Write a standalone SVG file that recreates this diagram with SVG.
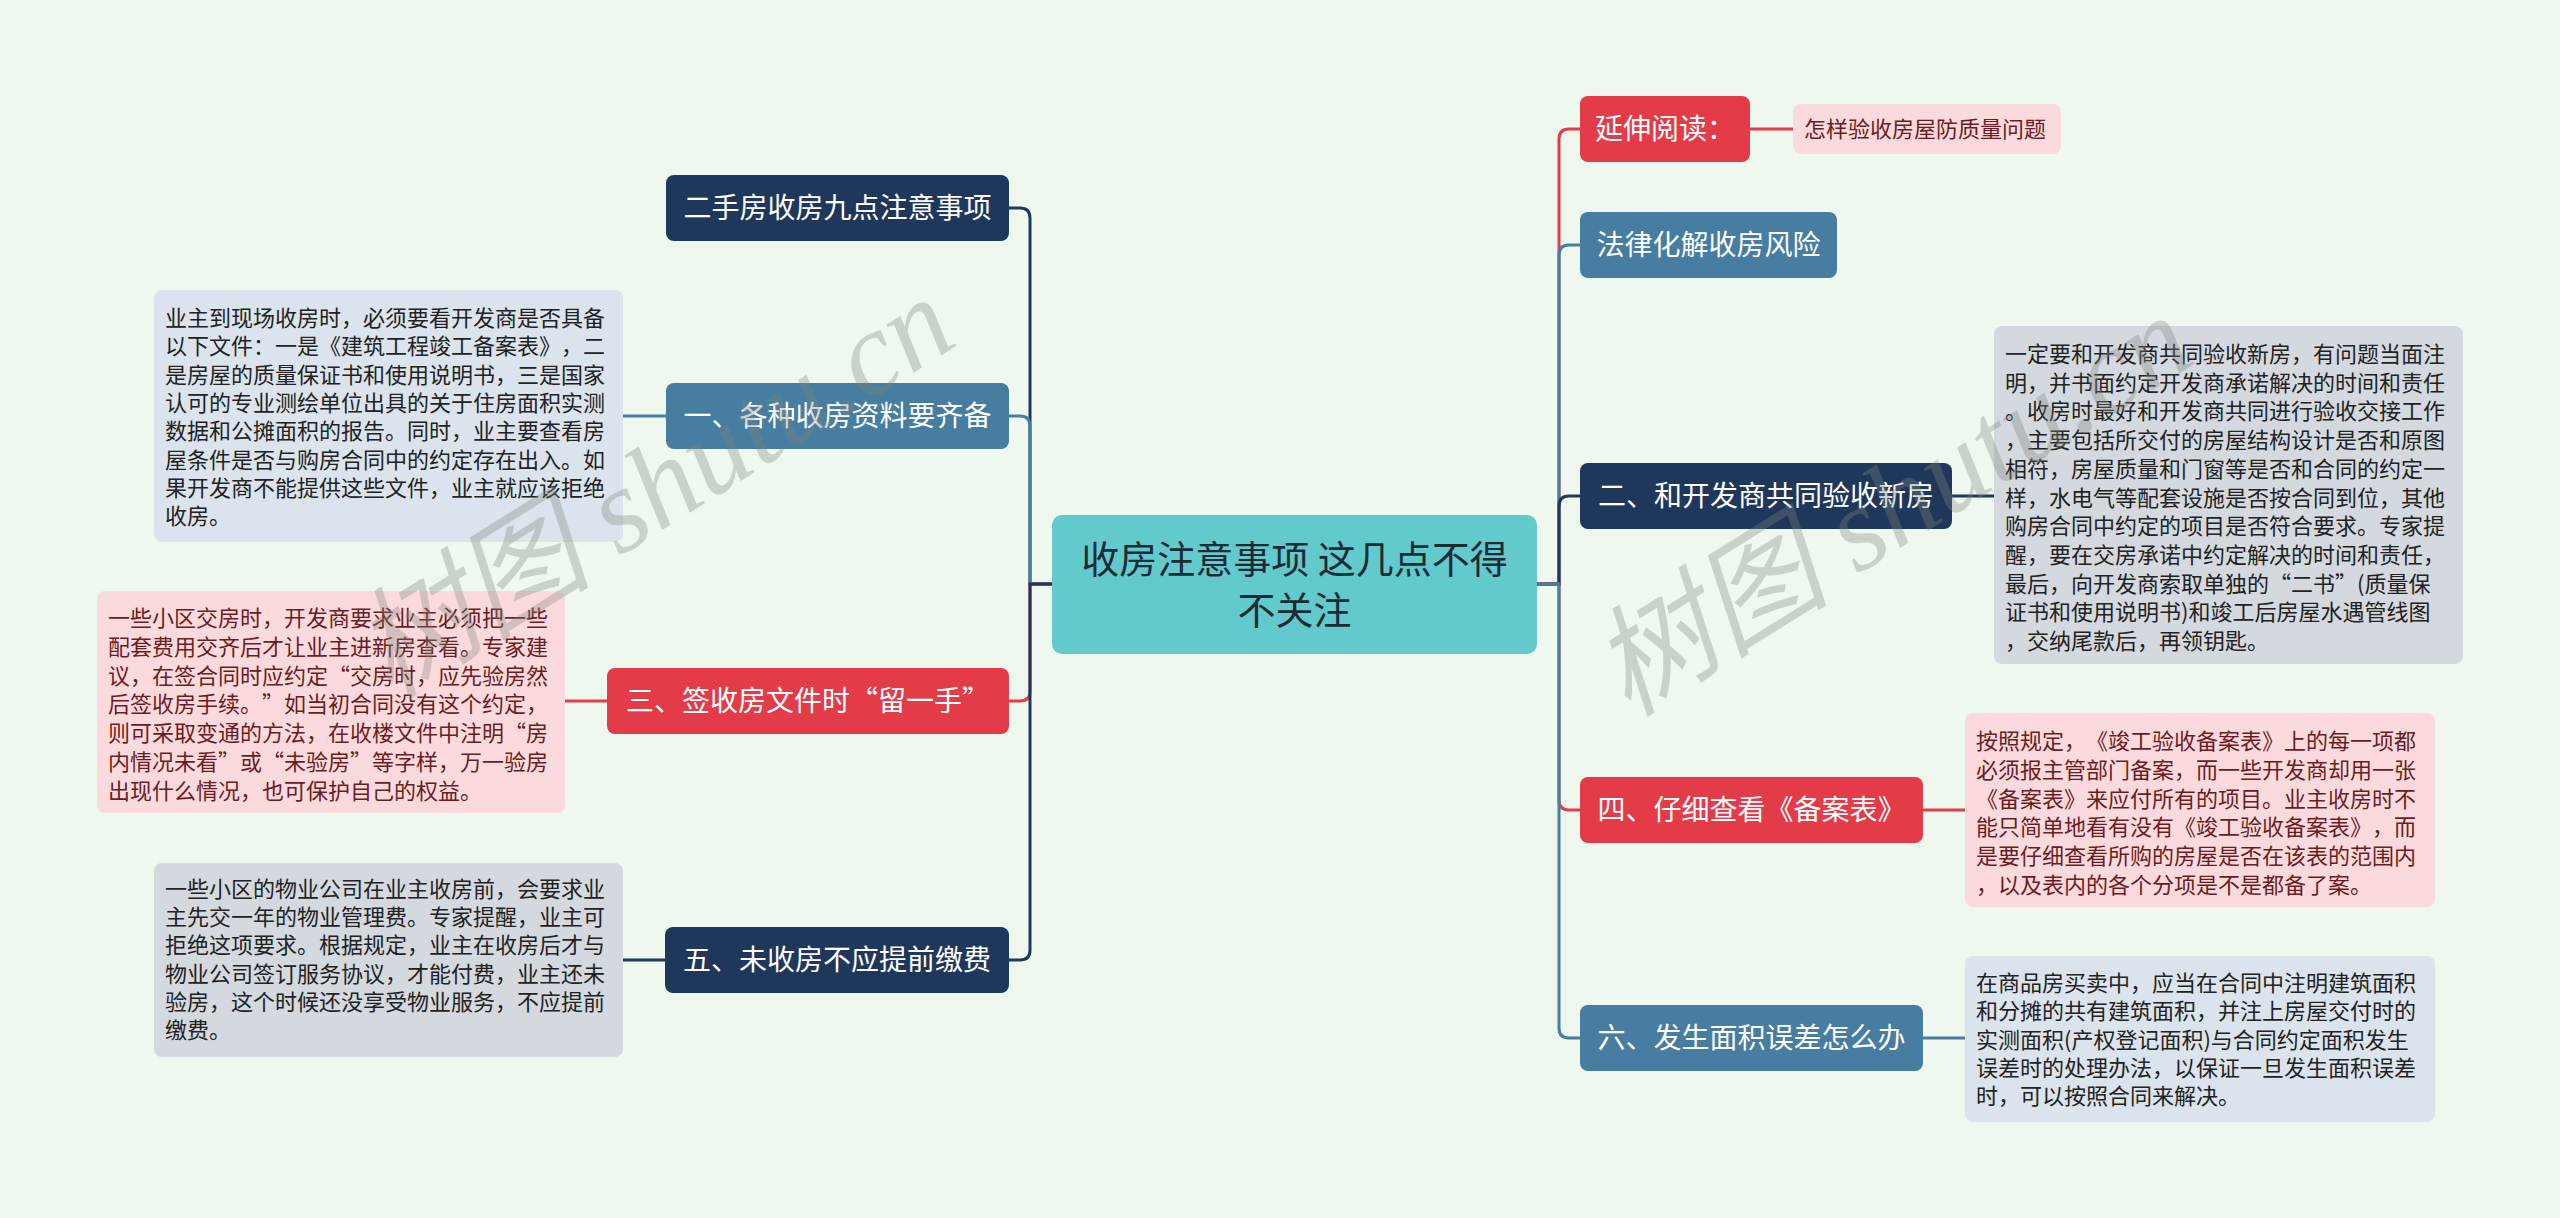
<svg xmlns="http://www.w3.org/2000/svg" width="2560" height="1218" viewBox="0 0 2560 1218">
<defs>
<style>
.bg{fill:#eff8ee}
.navy{fill:#1f375a}
.steel{fill:#467da0}
.red{fill:#e33b48}
.teal{fill:#62c9cc}
.pink{fill:#fbdadd}
.lblue{fill:#dbe4ec}
.grey{fill:#d4d9e0}
text{text-spacing-trim:space-all}
.t-main{font-family:"Noto Sans CJK SC",sans-serif;font-size:38px;fill:#1c2b36;text-anchor:middle}
.t-node{font-family:"Noto Sans CJK SC",sans-serif;font-size:28px;fill:#ffffff;text-anchor:middle}
.t-leaf{font-family:"Noto Sans CJK SC",sans-serif;font-size:22px;fill:#222222}
.t-pink{fill:#6b1c22}
.c{fill:none;stroke-width:3}
.cn{stroke:#1f375a}
.cs{stroke:#467da0}
.cr{stroke:#e33b48}
.wm{font-family:"Liberation Serif","Noto Sans CJK SC",serif;font-style:italic;font-size:120px;fill:#7d877d;opacity:0.33}
</style>
</defs>
<rect class="bg" x="0" y="0" width="2560" height="1218"/>

<g id="connectors">
<path class="c cn" d="M1052,584 H1030 V218 Q1030,208 1020,208 H1009"/>
<path class="c cs" d="M1052,584 H1030 V426 Q1030,416 1020,416 H1009"/>
<path class="c cr" d="M1052,584 H1030 V691 Q1030,701 1020,701 H1009"/>
<path class="c cn" d="M1052,584 H1030 V950 Q1030,960 1020,960 H1009"/>
<path class="c cr" d="M1537,584 H1559 V139 Q1559,129 1569,129 H1580"/>
<path class="c cs" d="M1537,584 H1559 V255 Q1559,245 1569,245 H1580"/>
<path class="c cn" d="M1537,584 H1559 V506 Q1559,496 1569,496 H1580"/>
<path class="c cr" d="M1537,584 H1559 V800 Q1559,810 1569,810 H1580"/>
<path class="c cs" d="M1537,584 H1559 V1028 Q1559,1038 1569,1038 H1580"/>
<path class="c cs" d="M666,416 H623"/>
<path class="c cr" d="M607,701 H565"/>
<path class="c cn" d="M665,960 H623"/>
<path class="c cr" d="M1750,129 H1793"/>
<path class="c cn" d="M1952,496 H1994"/>
<path class="c cr" d="M1923,810 H1965"/>
<path class="c cs" d="M1923,1038 H1965"/>
</g>

<g id="central">
<rect class="teal" x="1052" y="515" width="485" height="139" rx="10"/>
<text class="t-main" x="1294.5" y="573">收房注意事项 这几点不得</text>
<text class="t-main" x="1294.5" y="624">不关注</text>
</g>

<g id="n-ershoufang">
<rect class="navy" x="666" y="175" width="343" height="66" rx="8"/>
<text class="t-node" x="837.5" y="218">二手房收房九点注意事项</text>
</g>

<g id="n-yi">
<rect class="steel" x="666" y="383" width="343" height="66" rx="8"/>
<text class="t-node" x="837.5" y="426">一、各种收房资料要齐备</text>
</g>
<g id="leaf-yi">
<rect class="lblue" x="154" y="290" width="469" height="252" rx="8"/>
<text class="t-leaf">
<tspan x="165" y="326">业主到现场收房时，必须要看开发商是否具备</tspan>
<tspan x="165" y="354.3">以下文件：一是《建筑工程竣工备案表》，二</tspan>
<tspan x="165" y="382.6">是房屋的质量保证书和使用说明书，三是国家</tspan>
<tspan x="165" y="410.9">认可的专业测绘单位出具的关于住房面积实测</tspan>
<tspan x="165" y="439.2">数据和公摊面积的报告。同时，业主要查看房</tspan>
<tspan x="165" y="467.5">屋条件是否与购房合同中的约定存在出入。如</tspan>
<tspan x="165" y="495.8">果开发商不能提供这些文件，业主就应该拒绝</tspan>
<tspan x="165" y="524.1">收房。</tspan>
</text>
</g>

<g id="n-san">
<rect class="red" x="607" y="668" width="402" height="66" rx="8"/>
<text class="t-node" x="808" y="711">三、签收房文件时“留一手”</text>
</g>
<g id="leaf-san">
<rect class="pink" x="97" y="591" width="468" height="222" rx="8"/>
<text class="t-leaf t-pink">
<tspan x="108" y="626">一些小区交房时，开发商要求业主必须把一些</tspan>
<tspan x="108" y="654.8">配套费用交齐后才让业主进新房查看。专家建</tspan>
<tspan x="108" y="683.6">议，在签合同时应约定“交房时，应先验房然</tspan>
<tspan x="108" y="712.4">后签收房手续。”如当初合同没有这个约定，</tspan>
<tspan x="108" y="741.2">则可采取变通的方法，在收楼文件中注明“房</tspan>
<tspan x="108" y="770">内情况未看”或“未验房”等字样，万一验房</tspan>
<tspan x="108" y="798.8">出现什么情况，也可保护自己的权益。</tspan>
</text>
</g>

<g id="n-wu">
<rect class="navy" x="665" y="927" width="344" height="66" rx="8"/>
<text class="t-node" x="837" y="970">五、未收房不应提前缴费</text>
</g>
<g id="leaf-wu">
<rect class="grey" x="154" y="863" width="469" height="194" rx="8"/>
<text class="t-leaf">
<tspan x="165" y="897">一些小区的物业公司在业主收房前，会要求业</tspan>
<tspan x="165" y="925.2">主先交一年的物业管理费。专家提醒，业主可</tspan>
<tspan x="165" y="953.4">拒绝这项要求。根据规定，业主在收房后才与</tspan>
<tspan x="165" y="981.6">物业公司签订服务协议，才能付费，业主还未</tspan>
<tspan x="165" y="1009.8">验房，这个时候还没享受物业服务，不应提前</tspan>
<tspan x="165" y="1038">缴费。</tspan>
</text>
</g>

<g id="n-yanshen">
<rect class="red" x="1580" y="96" width="170" height="66" rx="8"/>
<text class="t-node" x="1665" y="139">延伸阅读：</text>
</g>
<g id="leaf-yanshen">
<rect class="pink" x="1793" y="104" width="268" height="50" rx="8"/>
<text class="t-leaf t-pink" x="1804" y="137">怎样验收房屋防质量问题</text>
</g>

<g id="n-falv">
<rect class="steel" x="1580" y="212" width="257" height="66" rx="8"/>
<text class="t-node" x="1708.5" y="255">法律化解收房风险</text>
</g>

<g id="n-er">
<rect class="navy" x="1580" y="463" width="372" height="66" rx="8"/>
<text class="t-node" x="1766" y="506">二、和开发商共同验收新房</text>
</g>
<g id="leaf-er">
<rect class="grey" x="1994" y="326" width="469" height="338" rx="8"/>
<text class="t-leaf">
<tspan x="2005" y="362">一定要和开发商共同验收新房，有问题当面注</tspan>
<tspan x="2005" y="390.7">明，并书面约定开发商承诺解决的时间和责任</tspan>
<tspan x="2005" y="419.4">。收房时最好和开发商共同进行验收交接工作</tspan>
<tspan x="2005" y="448.1">，主要包括所交付的房屋结构设计是否和原图</tspan>
<tspan x="2005" y="476.8">相符，房屋质量和门窗等是否和合同的约定一</tspan>
<tspan x="2005" y="505.5">样，水电气等配套设施是否按合同到位，其他</tspan>
<tspan x="2005" y="534.2">购房合同中约定的项目是否符合要求。专家提</tspan>
<tspan x="2005" y="562.9">醒，要在交房承诺中约定解决的时间和责任，</tspan>
<tspan x="2005" y="591.6">最后，向开发商索取单独的“二书”(质量保</tspan>
<tspan x="2005" y="620.3">证书和使用说明书)和竣工后房屋水遇管线图</tspan>
<tspan x="2005" y="649">，交纳尾款后，再领钥匙。</tspan>
</text>
</g>

<g id="n-si">
<rect class="red" x="1580" y="777" width="343" height="66" rx="8"/>
<text class="t-node" x="1751.5" y="820">四、仔细查看《备案表》</text>
</g>
<g id="leaf-si">
<rect class="pink" x="1965" y="713" width="470" height="194" rx="8"/>
<text class="t-leaf t-pink">
<tspan x="1976" y="749">按照规定，《竣工验收备案表》上的每一项都</tspan>
<tspan x="1976" y="777.8">必须报主管部门备案，而一些开发商却用一张</tspan>
<tspan x="1976" y="806.6">《备案表》来应付所有的项目。业主收房时不</tspan>
<tspan x="1976" y="835.4">能只简单地看有没有《竣工验收备案表》，而</tspan>
<tspan x="1976" y="864.2">是要仔细查看所购的房屋是否在该表的范围内</tspan>
<tspan x="1976" y="893">，以及表内的各个分项是不是都备了案。</tspan>
</text>
</g>

<g id="n-liu">
<rect class="steel" x="1580" y="1005" width="343" height="66" rx="8"/>
<text class="t-node" x="1751.5" y="1048">六、发生面积误差怎么办</text>
</g>
<g id="leaf-liu">
<rect class="lblue" x="1965" y="956" width="470" height="166" rx="8"/>
<text class="t-leaf">
<tspan x="1976" y="991">在商品房买卖中，应当在合同中注明建筑面积</tspan>
<tspan x="1976" y="1019.25">和分摊的共有建筑面积，并注上房屋交付时的</tspan>
<tspan x="1976" y="1047.5">实测面积(产权登记面积)与合同约定面积发生</tspan>
<tspan x="1976" y="1075.75">误差时的处理办法，以保证一旦发生面积误差</tspan>
<tspan x="1976" y="1104">时，可以按照合同来解决。</tspan>
</text>
</g>

<g id="watermark">
<text class="wm" x="390" y="700" transform="rotate(-32 390 700)">树图 shutu.cn</text>
<text class="wm" x="1628" y="718" transform="rotate(-32 1628 718)">树图 shutu.cn</text>
</g>
</svg>
